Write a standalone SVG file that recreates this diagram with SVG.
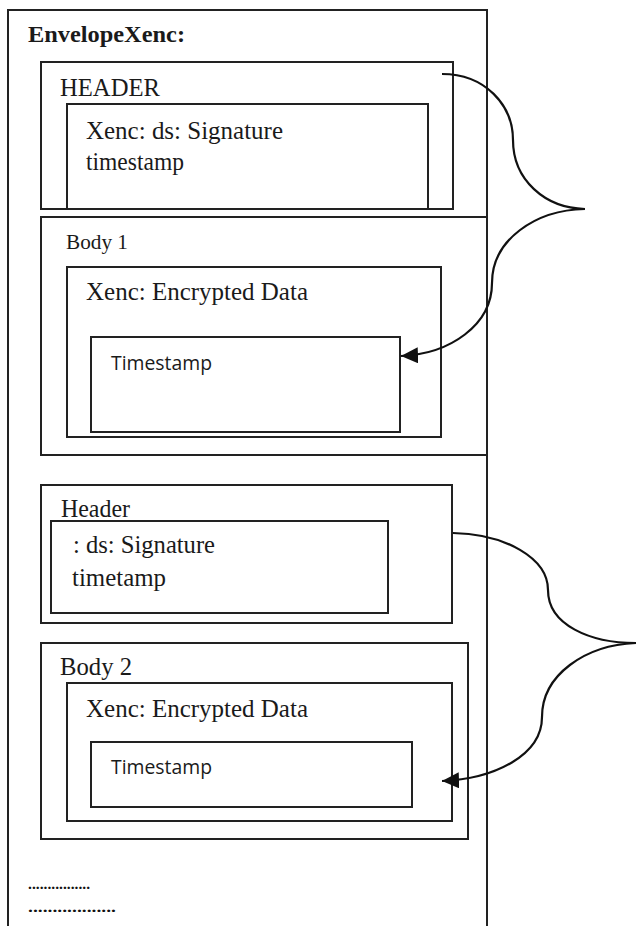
<svg xmlns="http://www.w3.org/2000/svg" width="637" height="926" viewBox="0 0 637 926">
<style>
.box{fill:none;stroke:#222;stroke-width:2}
.s{font-family:"Liberation Serif","Times New Roman",serif;font-size:25px;fill:#1a1a1a}
.b{font-weight:bold}
.ts{font-family:"Open Sans","Noto Sans",sans-serif;font-size:19.5px;fill:#1a1a1a}
.c{fill:none;stroke:#111;stroke-width:2.2}
.dots{font-family:"Liberation Serif",serif;font-size:14px;font-weight:bold;fill:#111}
</style>
<defs>
<marker id="ah" markerUnits="userSpaceOnUse" markerWidth="20" markerHeight="18" refX="17" refY="8" orient="auto">
<path d="M0,0 L17,8 L0,16 Z" fill="#111"/>
</marker>
</defs>
<rect x="0" y="0" width="637" height="926" fill="#fff"/>
<g id="envelope">
<path class="box" d="M8,940 L8,10 L487,10 L487,940"/>
<text class="s b" x="28" y="42" style="font-size:24px" textLength="157" lengthAdjust="spacingAndGlyphs">EnvelopeXenc:</text>
</g>
<g id="header1">
<rect class="box" x="41" y="62" width="412" height="147"/>
<text class="s" x="60" y="96" textLength="100" lengthAdjust="spacingAndGlyphs">HEADER</text>
</g>
<g id="signature1">
<rect class="box" x="67" y="104" width="361" height="105"/>
<text class="s" x="86" y="139" textLength="197" lengthAdjust="spacingAndGlyphs">Xenc: ds: Signature</text>
<text class="s" x="86" y="170" textLength="98" lengthAdjust="spacingAndGlyphs">timestamp</text>
</g>
<g id="body1">
<rect class="box" x="41" y="217" width="446" height="238"/>
<text class="s" x="66" y="249" style="font-size:22px" textLength="62" lengthAdjust="spacingAndGlyphs">Body 1</text>
</g>
<g id="encrypted1">
<rect class="box" x="67" y="267" width="374" height="170"/>
<text class="s" x="86" y="300" textLength="222" lengthAdjust="spacingAndGlyphs">Xenc: Encrypted Data</text>
</g>
<g id="timestamp1">
<rect class="box" x="91" y="337" width="309" height="95"/>
<text class="ts" x="111" y="370" textLength="101" lengthAdjust="spacingAndGlyphs">Timestamp</text>
</g>
<g id="header2">
<rect class="box" x="41" y="485" width="411" height="138"/>
<text class="s" x="61" y="517" textLength="69" lengthAdjust="spacingAndGlyphs">Header</text>
</g>
<g id="signature2">
<rect class="box" x="51" y="521" width="337" height="92"/>
<text class="s" x="73" y="553" textLength="142" lengthAdjust="spacingAndGlyphs">: ds: Signature</text>
<text class="s" x="72" y="586" textLength="94" lengthAdjust="spacingAndGlyphs">timetamp</text>
</g>
<g id="body2">
<rect class="box" x="41" y="643" width="427" height="196"/>
<text class="s" x="60" y="675" textLength="72" lengthAdjust="spacingAndGlyphs">Body 2</text>
</g>
<g id="encrypted2">
<rect class="box" x="67" y="683" width="385" height="138"/>
<text class="s" x="86" y="717" textLength="222" lengthAdjust="spacingAndGlyphs">Xenc: Encrypted Data</text>
</g>
<g id="timestamp2">
<rect class="box" x="91" y="742" width="321" height="65"/>
<text class="ts" x="111" y="774" textLength="101" lengthAdjust="spacingAndGlyphs">Timestamp</text>
</g>
<g id="ellipsis">
<text class="dots" x="28" y="889" textLength="62" lengthAdjust="spacingAndGlyphs">................</text>
<text class="dots" x="28" y="912" textLength="88" lengthAdjust="spacingAndGlyphs">..................</text>
</g>
<g id="connectors">
<path class="c" d="M442,74 C485,74 513,105 513,140 C513,180 545,208 585,209"/>
<path class="c" d="M585,209 C535,210 492,240 492,283 C492,325 450,354 401,356" marker-end="url(#ah)"/>
<path class="c" d="M453,533 C505,534 548,558 548,590 C548,625 590,643 636,643"/>
<path class="c" d="M636,643 C585,645 542,675 542,717 C542,755 495,779 442,781" marker-end="url(#ah)"/>
</g>
</svg>
